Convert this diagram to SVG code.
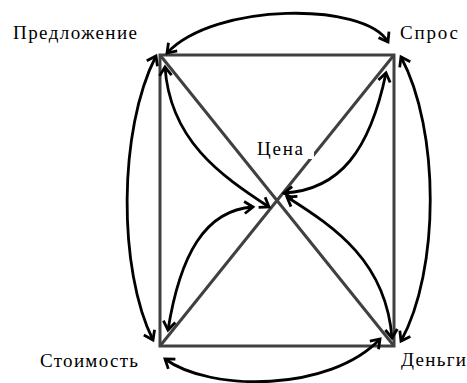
<svg xmlns="http://www.w3.org/2000/svg" width="467" height="383" viewBox="0 0 467 383">
<style>
.frame{fill:none;stroke:#404040;stroke-width:3}
.arc{fill:none;stroke:#000;stroke-width:2.8;marker-start:url(#ah);marker-end:url(#ah)}
.lbl{font-family:"Liberation Serif","Times New Roman",serif;font-size:19px;fill:#000}
</style>
<defs>
<marker id="ah" markerUnits="userSpaceOnUse" markerWidth="20" markerHeight="20" viewBox="-12 -10 14 20" refX="0" refY="0" orient="auto-start-reverse" overflow="visible">
<path d="M -8.5,-6 L 0,0 L -8.5,6" fill="none" stroke="#000" stroke-width="2.8" stroke-linejoin="miter" stroke-linecap="butt"/>
</marker>
</defs>
<g id="frame">
<rect class="frame" x="160" y="55" width="234" height="291"/>
<line class="frame" x1="160" y1="55" x2="394" y2="346"/>
<line class="frame" x1="394" y1="55" x2="160" y2="346"/>
</g>
<g id="connectors">
<path class="arc" d="M 167,53 C 215,2 365,2 388,42"/>
<path class="arc" d="M 156,56 C 118,130 118,270 153,340"/>
<path class="arc" d="M 401,57 C 440,130 440,270 401,341"/>
<path class="arc" d="M 165,359 C 210,392 330,392 380,339"/>
<path class="arc" d="M 165,67 C 170,140 220,175 269,207"/>
<path class="arc" d="M 386,73 C 370,150 340,190 284,193"/>
<path class="arc" d="M 168,330 C 180,255 205,210 253,207"/>
<path class="arc" d="M 392,338 C 386,262 336,228 287,197"/>
</g>
<g id="node-supply"><text class="lbl" x="13" y="39" textLength="124" lengthAdjust="spacing">Предложение</text></g>
<g id="node-demand"><text class="lbl" x="400" y="39" textLength="58" lengthAdjust="spacing">Спрос</text></g>
<g id="node-value"><text class="lbl" x="40" y="367" textLength="98" lengthAdjust="spacing">Стоимость</text></g>
<g id="node-money"><text class="lbl" x="401" y="366" textLength="65" lengthAdjust="spacing">Деньги</text></g>
<g id="node-price">
<rect x="250" y="138" width="64" height="21" fill="#fff"/>
<text class="lbl" x="257" y="155" textLength="46" lengthAdjust="spacing">Цена</text>
</g>
</svg>
